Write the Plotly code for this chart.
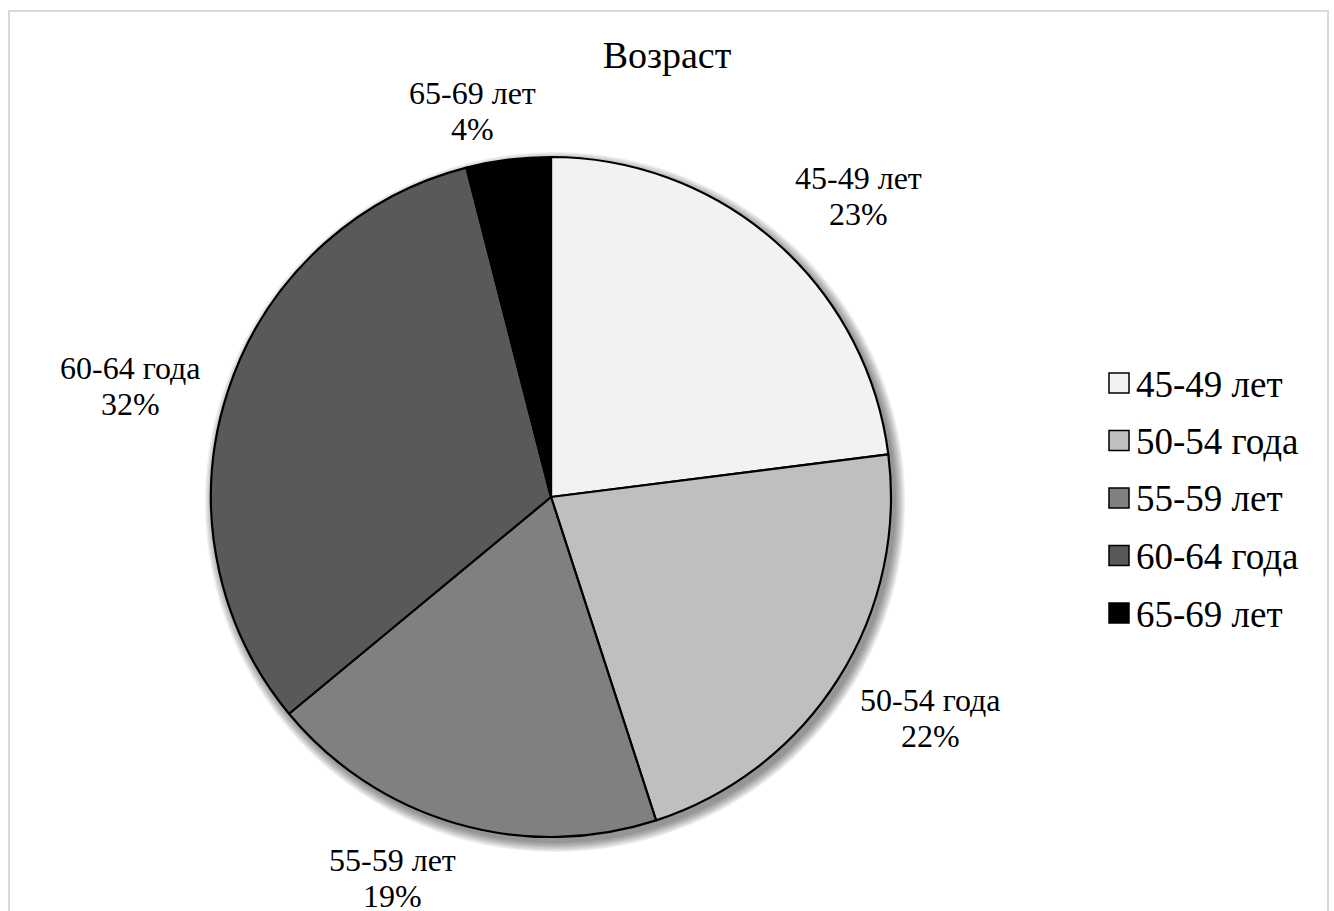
import plotly.graph_objects as go

# Age groups and their shares (%)
categories = ["45-49 лет", "50-54 года", "55-59 лет", "60-64 года", "65-69 лет"]
shares = [23, 22, 19, 32, 4]
colors = ["#f2f2f2", "#bfbfbf", "#808080", "#595959", "#000000"]

W, H = 1334, 911
FONT = "Liberation Serif"

def px(x, y):
    return x / W, 1 - y / H

# pie geometry in pixels
cx, cy, r = 551, 497, 340

fig = go.Figure()
fig.add_trace(go.Pie(
    labels=categories,
    values=shares,
    sort=False,
    direction="clockwise",
    rotation=0,
    marker=dict(colors=colors, line=dict(color="#000000", width=2.2)),
    textinfo="none",
    hoverinfo="label+percent",
    showlegend=False,
    domain=dict(x=[(cx - r) / W, (cx + r) / W], y=[1 - (cy + r) / H, 1 - (cy - r) / H]),
))

shapes = []
# soft drop shadow behind the pie
for i in range(7):
    rr = r + 1 + i * 1.5
    ox, oy = cx + 4, cy + 5
    x0, y0 = px(ox - rr, oy + rr)
    x1, y1 = px(ox + rr, oy - rr)
    shapes.append(dict(type="circle", xref="paper", yref="paper", x0=x0, y0=y0, x1=x1, y1=y1,
                       fillcolor="rgba(0,0,0,0.07)", line=dict(width=0), layer="below"))

# chart frame
fx0, fy0 = px(9, 960)
fx1, fy1 = px(1328, 11)
shapes.append(dict(type="rect", xref="paper", yref="paper", x0=fx0, y0=fy0, x1=fx1, y1=fy1,
                   line=dict(color="#d9d9d9", width=2), fillcolor="rgba(0,0,0,0)", layer="above"))

annotations = []
# data labels: category on the first line, share on the second
label_pos = [(858, 178), (930, 700), (392, 860), (130, 368), (472, 93)]
LINE_GAP = 36
for cat, val, (lx, ly) in zip(categories, shares, label_pos):
    for k, txt in enumerate([cat, f"{val}%"]):
        ax, ay = px(lx, ly + k * LINE_GAP)
        annotations.append(dict(x=ax, y=ay, xref="paper", yref="paper", showarrow=False,
                                xanchor="center", yanchor="middle", text=txt,
                                font=dict(family=FONT, size=32, color="#000000")))

# legend
for i, (cat, col) in enumerate(zip(categories, colors)):
    ly = 383 + i * 57.5
    sx0, sy0 = px(1109, ly + 10)
    sx1, sy1 = px(1129, ly - 10)
    shapes.append(dict(type="rect", xref="paper", yref="paper", x0=sx0, y0=sy0, x1=sx1, y1=sy1,
                       fillcolor=col, line=dict(color="#000000", width=1.5)))
    tx, ty = px(1134, ly + 1)
    annotations.append(dict(x=tx, y=ty, xref="paper", yref="paper", showarrow=False,
                            xanchor="left", yanchor="middle", text=cat,
                            font=dict(family=FONT, size=37, color="#000000")))

fig.update_layout(
    width=W, height=H,
    margin=dict(l=0, r=0, t=0, b=0),
    paper_bgcolor="#ffffff",
    plot_bgcolor="#ffffff",
    title=dict(text="Возраст", x=667 / W, xanchor="center", y=1 - 55 / H, yanchor="middle",
               font=dict(family=FONT, size=38, color="#000000")),
    shapes=shapes,
    annotations=annotations,
)

fig.write_html("out.html")
